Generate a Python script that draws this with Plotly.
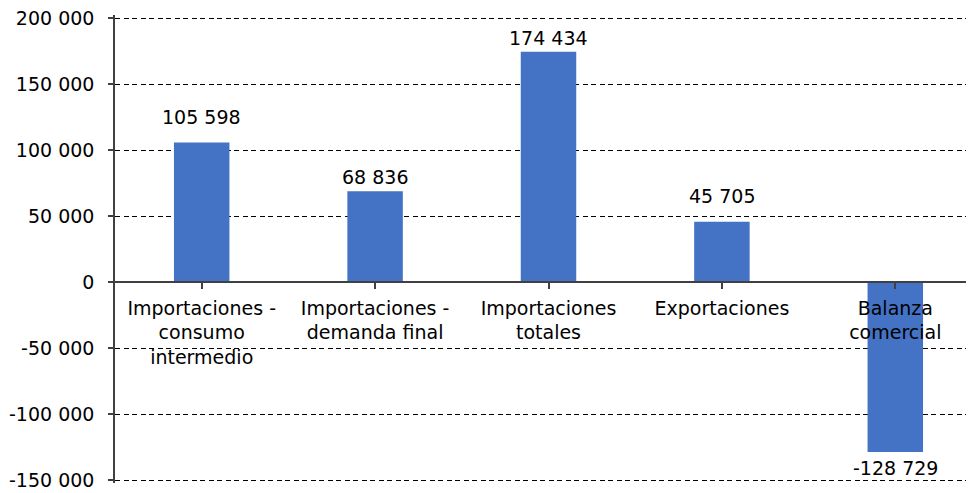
import plotly.graph_objects as go

categories = [
    "Importaciones -<br>consumo<br>intermedio",
    "Importaciones -<br>demanda final",
    "Importaciones<br>totales",
    "Exportaciones",
    "Balanza<br>comercial",
]
values = [105598, 68836, 174434, 45705, -128729]
y_tick_vals = [-150000, -100000, -50000, 0, 50000, 100000, 150000, 200000]
y_tick_text = ["-150 000", "-100 000", "-50 000", "0", "50 000", "100 000", "150 000", "200 000"]

# style: vertical offset (px) of each value label from its bar end
label_shift_px = [13, 1, 1, 13, -3]

FONT = "DejaVu Sans"
FS = 19
AXIS_COLOR = "#404040"
BAR_COLOR = "#4472C4"

def fmt(v):
    return f"{v:,}".replace(",", " ")

x_idx = list(range(len(categories)))

fig = go.Figure()
fig.add_trace(go.Bar(
    x=x_idx,
    y=values,
    width=0.32,
    marker=dict(color=BAR_COLOR, line=dict(width=0)),
    hoverinfo="skip",
))

annotations = []
for xi, v, s in zip(x_idx, values, label_shift_px):
    annotations.append(dict(
        x=xi, y=v, xref="x", yref="y",
        text=fmt(v), showarrow=False,
        yanchor="bottom" if v >= 0 else "top",
        yshift=s,
        font=dict(family=FONT, size=FS, color="#000000"),
    ))

px_per_unit = 462 / 350000
pad_px = 3
pad = pad_px / px_per_unit
ymin, ymax = -150000 - pad, 200000 + pad
fig.update_layout(
    width=974, height=493,
    margin=dict(l=107, r=0, t=10 - pad_px, b=21 - pad_px, autoexpand=False),
    paper_bgcolor="white", plot_bgcolor="white",
    showlegend=False,
    font=dict(family=FONT, size=FS, color="#000000"),
    annotations=annotations,
    xaxis=dict(
        tickmode="array",
        tickvals=x_idx,
        ticktext=categories,
        range=[-0.5, 4.5],
        anchor="free",
        position=(0 - ymin) / (ymax - ymin),
        automargin=False,
        showline=True, linecolor=AXIS_COLOR, linewidth=1.5,
        ticks="outside", tickson="boundaries", ticklen=6,
        tickcolor=AXIS_COLOR, tickwidth=1.5,
        showgrid=False, zeroline=False,
        ticklabelstandoff=3,
        ticklabeloverflow="allow",
        tickfont=dict(family=FONT, size=FS, color="#000000"),
    ),
    yaxis=dict(
        range=[ymin, ymax],
        tickmode="array",
        tickvals=y_tick_vals,
        ticktext=y_tick_text,
        automargin=False,
        showline=True, linecolor=AXIS_COLOR, linewidth=1.5,
        ticks="outside", ticklen=5, tickcolor=AXIS_COLOR, tickwidth=1.5,
        showgrid=True, gridcolor="#000000", gridwidth=1, griddash="5px,3.5px",
        zeroline=False,
        ticklabelstandoff=10,
        ticklabeloverflow="allow",
        tickfont=dict(family=FONT, size=FS, color="#000000"),
    ),
)

fig.write_html("out.html")
